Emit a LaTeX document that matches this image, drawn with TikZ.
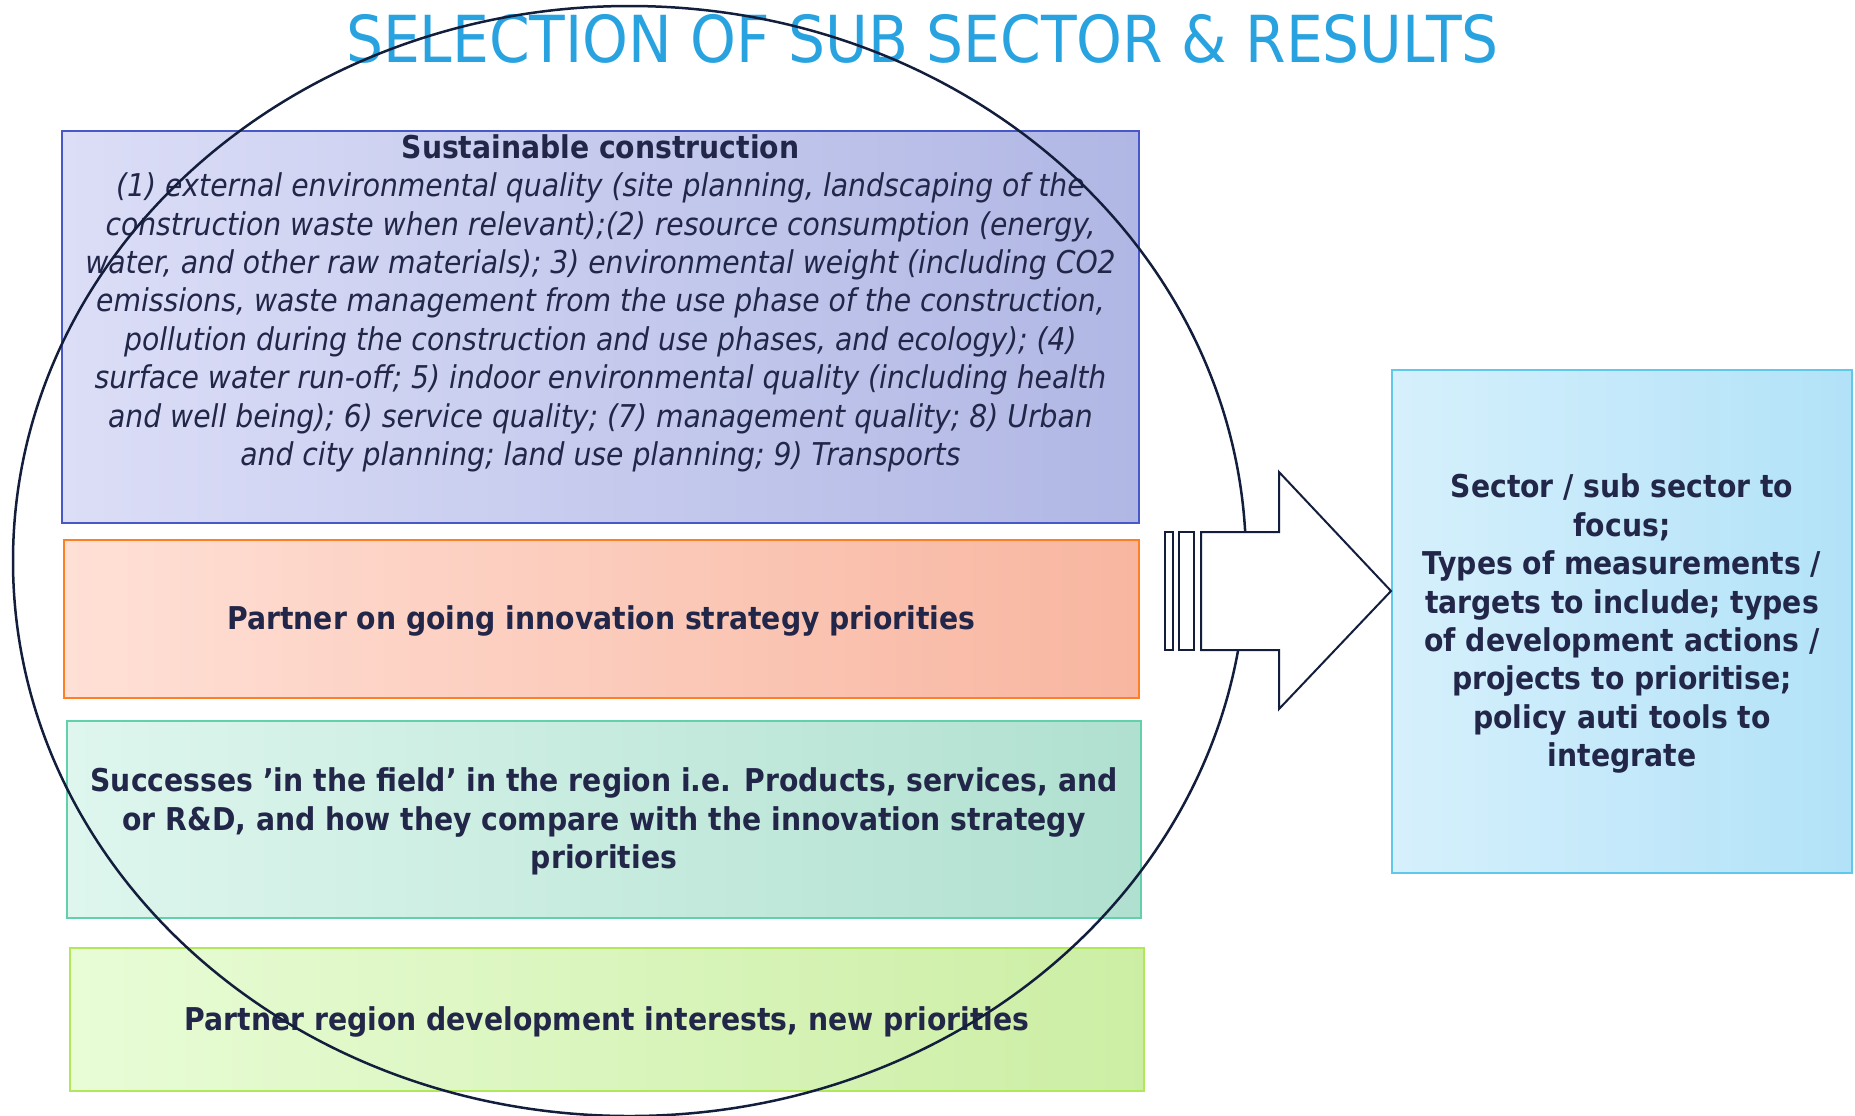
\documentclass[tikz,border=0pt]{standalone}
\usepackage{fontspec}
\setmainfont{DejaVu Sans Condensed}[BoldFont={DejaVu Sans Condensed Bold}, ItalicFont={DejaVu Sans Condensed Oblique}, BoldItalicFont={DejaVu Sans Condensed Bold Oblique}]
\usetikzlibrary{positioning}

\definecolor{ink}{RGB}{34,38,72}
\definecolor{titleblue}{RGB}{41,163,224}
\definecolor{lineink}{RGB}{18,30,60}

\tikzset{
  band/.style={draw, line width=1pt, inner sep=0pt, align=center, text=ink, text depth=1.2pt,
    font=\bfseries\fontsize{15.7}{19.2}\selectfont},
  arrowline/.style={draw=lineink, line width=1pt, fill=white}
}

\begin{document}
\begin{tikzpicture}[x=0.5pt, y=-0.5pt]
\useasboundingbox (0,0) rectangle (1855,1115);

\node[text=titleblue, inner sep=0pt, font=\fontsize{32.4}{38}\selectfont] (title) at (922.5,38.5) {SELECTION OF SUB SECTOR \& RESULTS};

% the four bands
\node[band, draw={rgb,255:red,72;green,88;blue,200}, left color={rgb,255:red,220;green,222;blue,247}, right color={rgb,255:red,176;green,183;blue,228}, minimum width=538.5pt, minimum height=196pt] (sust) at (600.5,327) {};
\node[band, draw={rgb,255:red,255;green,128;blue,36}, left color={rgb,255:red,255;green,224;blue,214}, right color={rgb,255:red,248;green,182;blue,160}, minimum width=537.5pt, minimum height=79pt] (going) at (601.5,619) {Partner on going innovation strategy priorities};
\node[band, draw={rgb,255:red,98;green,208;blue,170}, left color={rgb,255:red,222;green,246;blue,238}, right color={rgb,255:red,176;green,224;blue,208}, minimum width=537pt, minimum height=98.5pt] (field) at (604,819.5) {Successes ’in the field’ in the region i.e. Products, services, and\\or R\&D, and how they compare with the innovation strategy\\priorities};
\node[band, draw={rgb,255:red,176;green,232;blue,90}, left color={rgb,255:red,232;green,252;blue,214}, right color={rgb,255:red,204;green,238;blue,164}, minimum width=537pt, minimum height=71.5pt] (region) at (607,1019.5) {Partner region development interests, new priorities};

\node[anchor=north, inner sep=0pt, align=center, text=ink, font=\itshape\fontsize{15.7}{19.2}\selectfont] (sustxt) at (600.5,134) {{\upshape\bfseries Sustainable construction}\\
(1) external environmental quality (site planning, landscaping of the\\
construction waste when relevant);(2) resource consumption (energy,\\
water, and other raw materials); 3) environmental weight (including CO2\\
emissions, waste management from the use phase of the construction,\\
pollution during the construction and use phases, and ecology); (4)\\
surface water run-off; 5) indoor environmental quality (including health\\
and well being); 6) service quality; (7) management quality; 8) Urban\\
and city planning; land use planning; 9) Transports};

% result box
\node[band, draw={rgb,255:red,96;green,200;blue,236}, left color={rgb,255:red,214;green,240;blue,252}, right color={rgb,255:red,178;green,226;blue,248}, minimum width=230pt, minimum height=251.5pt] (focus) at (1622,621.5) {Sector / sub sector to\\focus;\\Types of measurements /\\targets to include; types\\of development actions /\\projects to prioritise;\\policy auti tools to\\integrate};

\draw[line width=1.25pt, lineink] (629.5,561) ellipse [x radius=308.25pt, y radius=277.5pt];

% block arrow
\coordinate (tip) at (focus.west |- 0,591);
\draw[arrowline] (1201,532) -- (1279,532) -- (1279,472) -- (tip) -- (1279,709) -- (1279,650) -- (1201,650) -- cycle;
\draw[arrowline] (1165,532) rectangle (1173,650);
\draw[arrowline] (1179,532) rectangle (1194,650);

\end{tikzpicture}
\end{document}
